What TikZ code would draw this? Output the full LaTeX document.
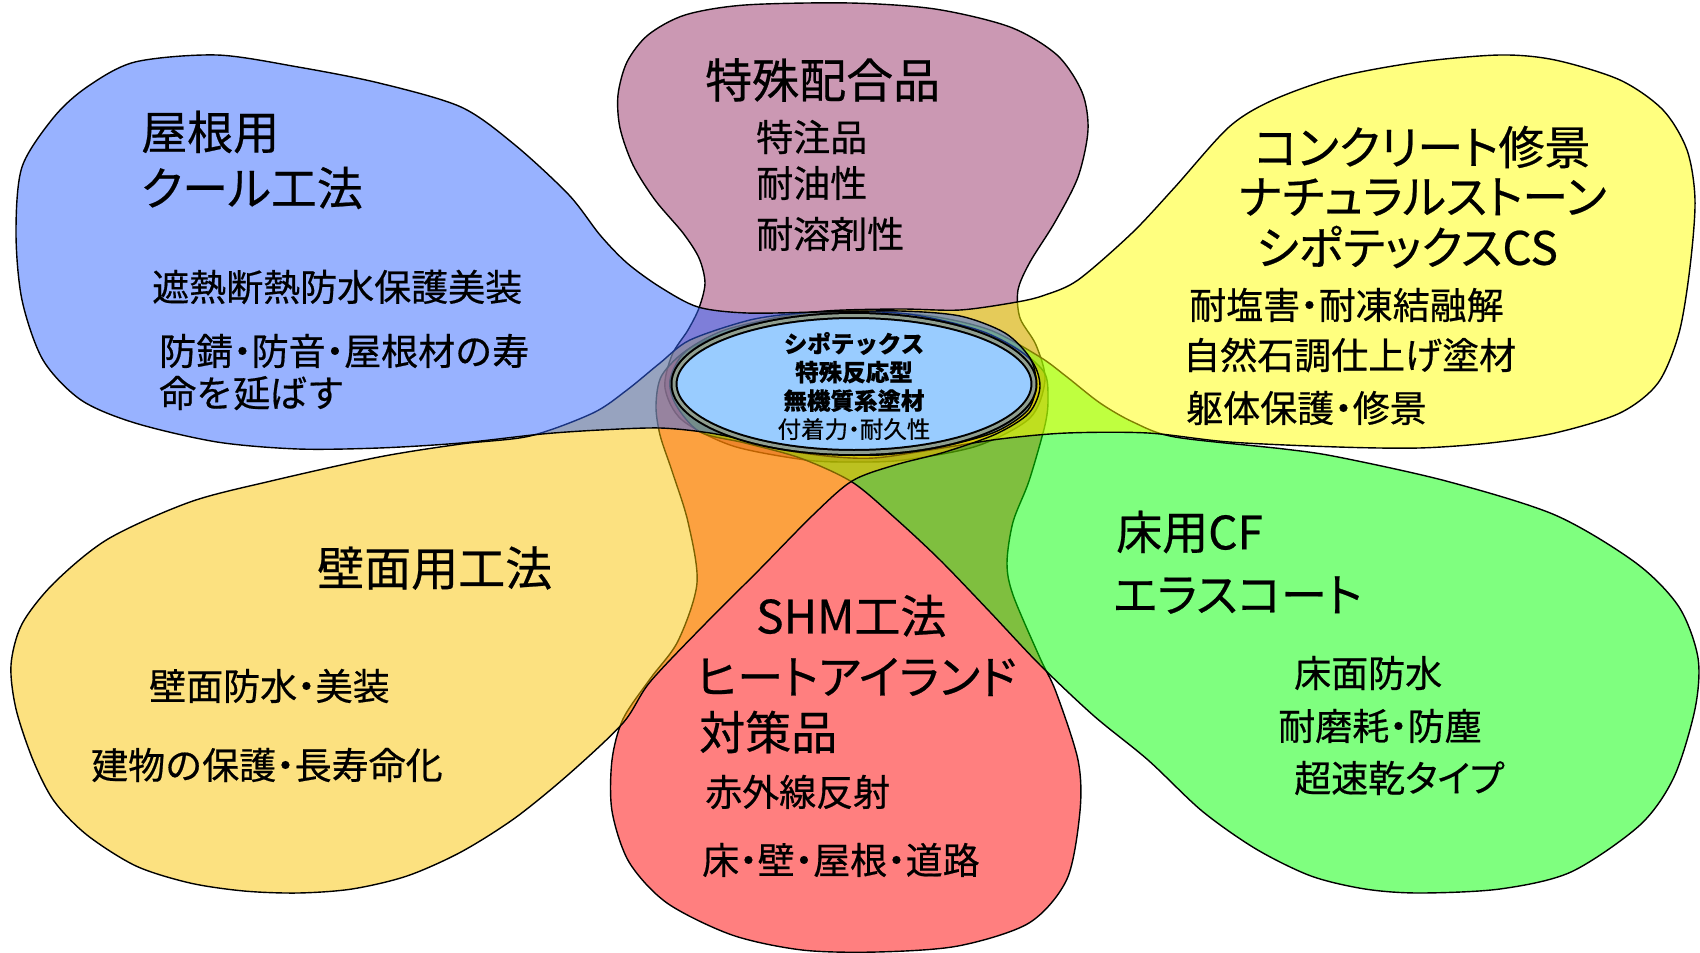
\documentclass[tikz,border=0pt]{standalone}
\usepackage{fontspec}
\setmainfont[FakeBold=0.5]{Noto Sans CJK JP}
\newfontfamily\jpp[RawFeature=+palt,FakeBold=0.5]{Noto Sans CJK JP}
\usetikzlibrary{shapes.geometric}
\definecolor{cblue}{RGB}{51,102,255}
\definecolor{cpurple}{RGB}{153,51,105}
\definecolor{cyelR}{RGB}{255,255,0}
\definecolor{cyelL}{RGB}{250,196,2}
\definecolor{cred}{RGB}{255,0,0}
\definecolor{cgreen}{RGB}{0,255,0}
\definecolor{ccenter}{RGB}{153,204,255}
\definecolor{cring}{RGB}{143,158,143}
\newcommand\ndot{\makebox[0.5em][c]{・}}
\begin{document}
\begin{tikzpicture}[x=1pt,y=-1pt,
  petal/.style={draw=black, line width=1.4pt, fill opacity=0.5, line join=round},
  ttl/.style={anchor=west, inner sep=0pt, font=\jpp\fontsize{46}{52}\selectfont},
  bdy/.style={anchor=west, inner sep=0pt, font=\fontsize{37}{42}\selectfont}]
\useasboundingbox (0,0) rectangle (1700,953);
\fill[white] (0,0) rectangle (1700,953);
% purple (top)
\draw[petal, fill=cpurple] plot[smooth cycle] coordinates {
(699,308) (705,283) (699,258) (683,233) (655,200) (633,165) (620,128) (618,95) (627,62) (648,35) (685,15) (745,5) (850,3) (935,9) (1010,27) (1057,55) (1082,92) (1088,130) (1078,177) (1055,222) (1030,262) (1018,290) (1020,318) (1036,345) (1045,380) (1030,418) (977,446) (904,460) (855,462) (806,460) (733,446) (682,420) (665,388) (672,355) (688,330)};
% red (bottom)
\draw[petal, fill=cred] plot[smooth cycle] coordinates {
(660,435) (656,405) (662,375) (690,348) (740,328) (800,317) (852,314) (910,317) (970,328) (1015,347) (1044,372) (1048,398) (1045,425) (1029,481) (1013,522) (1007,563) (1013,595) (1040,658) (1056,692) (1078,760) (1080,811) (1067,879) (1029,923) (958,946) (877,952) (802,950) (732,935) (667,903) (629,862) (612,811) (612,760) (623,719) (650,679) (678,641) (697,583) (688,522) (672,471)};
% green (bottom right)
\draw[petal, fill=cgreen] plot[smooth cycle] coordinates {
(1040,357) (1067,377) (1100,403) (1133,422) (1175,437) (1284,449) (1338,457) (1446,481) (1555,515) (1636,563) (1679,607) (1698,658) (1695,709) (1674,777) (1640,825) (1571,872) (1500,889) (1419,893) (1365,889) (1311,876) (1256,849) (1202,811) (1148,760) (1094,716) (1040,665) (990,612) (940,560) (895,518) (852,482) (800,458) (745,443) (700,432) (676,405) (670,380) (685,352) (725,330) (790,316) (860,312) (930,316) (990,330)};
% yellow (top right)
\draw[petal, fill=cyelR] plot[smooth cycle] coordinates {
(1017,302) (960,310) (900,309) (826,311) (765,320) (706,341) (678,364) (672,383) (678,402) (706,425) (765,446) (826,456) (874,458) (930,450) (1000,439) (1067,433) (1148,433) (1229,442) (1338,447) (1419,448) (1490,443) (1555,433) (1620,413) (1658,383) (1679,333) (1690,267) (1695,200) (1687,150) (1663,110) (1620,80) (1555,60) (1500,55) (1419,62) (1338,77) (1273,100) (1229,127) (1175,187) (1132,233) (1078,280) (1045,295)};
% yellow-orange (bottom left)
\draw[petal, fill=cyelL] plot[smooth cycle] coordinates {
(690,340) (750,320) (801,313) (850,311) (915,315) (984,332) (1029,358) (1040,386) (1029,413) (996,434) (945,452) (895,465) (852,481) (813,515) (759,570) (705,624) (650,682) (623,723) (569,774) (515,818) (461,852) (407,876) (352,889) (298,893) (244,891) (190,883) (136,866) (87,835) (54,801) (33,760) (16,709) (11,665) (22,624) (54,583) (108,539) (190,502) (271,481) (379,457) (461,444) (530,436) (593,413) (627,390) (660,363)};
% blue (top left)
\draw[petal, fill=cblue] plot[smooth cycle] coordinates {
(54,117) (87,87) (135,62) (217,55) (298,67) (379,83) (461,107) (515,145) (569,195) (600,235) (627,263) (660,287) (698,307) (747,313) (820,312) (900,311) (960,316) (1005,333) (1030,358) (1036,383) (1028,410) (995,432) (940,447) (880,455) (820,453) (760,443) (710,433) (660,428) (600,430) (542,434) (461,443) (379,448) (298,449) (217,442) (135,423) (81,400) (43,360) (22,300) (16,233) (22,167)};
% centre
\draw[line width=2pt, double=cring, double distance=3pt, fill=ccenter] (854,384) ellipse [x radius=180pt, y radius=68.5pt];
\node[inner sep=0pt, align=center, font=\fontsize{23.5}{28.5}\selectfont] (core) at (854,386)
  {\textbf{シポテックス}\\\textbf{特殊反応型}\\\textbf{無機質系塗材}\\付着力\ndot 耐久性};
% blue texts
\node[ttl] (b1) at (141,132) {屋根用};
\node[ttl] (b2) at (141,188) {クール工法};
\node[bdy] (b3) at (152,287) {遮熱断熱防水保護美装};
\node[bdy] (b4) at (159,351) {防錆\ndot 防音\ndot 屋根材の寿};
\node[bdy] (b5) at (159,393) {命を延ばす};
% purple texts
\node[ttl, font=\jpp\fontsize{47}{52}\selectfont] (p1) at (705,80) {特殊配合品};
\node[bdy] (p2) at (756,137) {特注品};
\node[bdy] (p3) at (756,183) {耐油性};
\node[bdy] (p4) at (756,234) {耐溶剤性};
% yellow right texts
\node[ttl] (y1) at (1254,147) {コンクリート修景};
\node[ttl] (y2) at (1238,197) {ナチュラルストーン};
\node[ttl] (y3) at (1256,247) {シポテックスCS};
\node[bdy] (y4) at (1189,305) {耐塩害\ndot 耐凍結融解};
\node[bdy] (y5) at (1183,355) {自然石調仕上げ塗材};
\node[bdy] (y6) at (1186,408) {躯体保護\ndot 修景};
% yellow left texts
\node[ttl, font=\jpp\fontsize{47}{52}\selectfont] (l1) at (317,568) {壁面用工法};
\node[bdy] (l2) at (149,686) {壁面防水\ndot 美装};
\node[bdy] (l3) at (91,765) {建物の保護\ndot 長寿命化};
% red texts
\node[ttl] (r1) at (756,616) {SHM工法};
\node[ttl] (r2) at (696,677) {ヒートアイランド};
\node[ttl] (r3) at (699,732) {対策品};
\node[bdy] (r4) at (705,792) {赤外線反射};
\node[bdy] (r5) at (702,860) {床\ndot 壁\ndot 屋根\ndot 道路};
% green texts
\node[ttl] (g1) at (1116,532) {床用CF};
\node[ttl] (g2) at (1113,595) {エラスコート};
\node[bdy] (g3) at (1294,673) {床面防水};
\node[bdy] (g4) at (1278,726) {耐磨耗\ndot 防塵};
\node[bdy, font=\jpp\fontsize{37}{42}\selectfont] (g5) at (1294,778) {超速乾タイプ};
\end{tikzpicture}
\end{document}
